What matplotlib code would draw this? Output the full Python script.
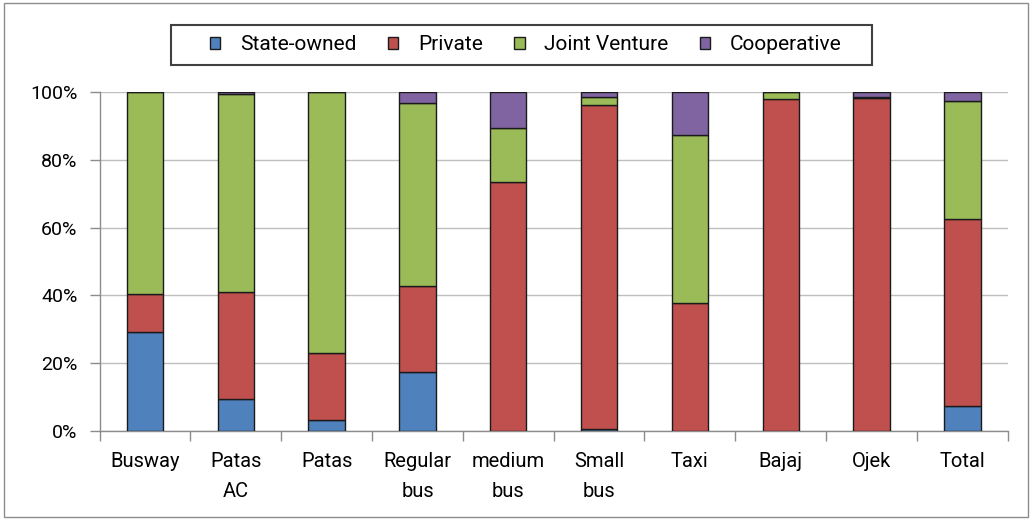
import matplotlib
matplotlib.use("Agg")
import matplotlib.pyplot as plt
from matplotlib.patches import Rectangle
import numpy as np

plt.rcParams['font.family'] = ['Roboto', 'DejaVu Sans']

categories = ["Busway", "Patas\nAC", "Patas", "Regular\nbus", "medium\nbus",
              "Small\nbus", "Taxi", "Bajaj", "Ojek", "Total"]
state_owned = [29.2, 9.4, 3.2, 17.5, 0.0, 0.5, 0.0, 0.0, 0.0, 7.4]
private = [11.2, 31.6, 19.8, 25.3, 73.5, 95.7, 37.8, 98.0, 98.1, 55.1]
joint_venture = [59.6, 58.3, 77.0, 53.9, 16.0, 2.2, 49.5, 2.0, 0.5, 34.8]
cooperative = [0.0, 0.7, 0.0, 3.3, 10.5, 1.6, 12.7, 0.0, 1.4, 2.7]

series = [("State-owned", state_owned, "#4F81BD"),
          ("Private", private, "#C0504D"),
          ("Joint Venture", joint_venture, "#9BBB59"),
          ("Cooperative", cooperative, "#8064A2")]

W, H = 1032, 520
fig = plt.figure(figsize=(W / 100, H / 100), dpi=100)
# outer chart border
fig.patches.append(Rectangle((0.004, 0.006), 0.992, 0.988, transform=fig.transFigure,
                             fill=False, edgecolor="#8C8C8C", linewidth=1.0))
ax = fig.add_axes([0.0965, 0.171, 0.880, 0.652])

x = np.arange(len(categories))
bottom = np.zeros(len(categories))
handles = []
for name, vals, color in series:
    vals = np.array(vals)
    b = ax.bar(x, vals, 0.4, bottom=bottom, color=color, edgecolor="#1a1a1a",
               linewidth=1.0, label=name, zorder=3)
    handles.append(b)
    bottom += vals

ax.set_xlim(-0.5, len(categories) - 0.5)
ax.set_ylim(0, 100)
ax.set_yticks(np.arange(0, 101, 20))
ax.set_yticklabels([f"{v}%" for v in range(0, 101, 20)], fontsize=14)
ax.yaxis.grid(True, color="#BFBFBF", linewidth=1.0, zorder=0)
ax.set_axisbelow(True)

ax.set_xticks(x)
ax.set_xticklabels(categories, fontsize=14.5, linespacing=1.75)
ax.tick_params(axis="x", length=0, pad=15)
ax.set_xticks(np.arange(-0.5, len(categories)), minor=True)
ax.tick_params(axis="x", which="minor", length=7, color="#8C8C8C", width=1)
ax.tick_params(axis="y", length=7, color="#8C8C8C", width=1, pad=9)

for side in ["top", "right"]:
    ax.spines[side].set_visible(False)
for side in ["left", "bottom"]:
    ax.spines[side].set_color("#8C8C8C")
    ax.spines[side].set_linewidth(1.0)

# legend with a separately drawn box
leg = fig.legend(handles=handles, loc="center", bbox_to_anchor=(526 / W, 1 - 45 / H),
                 ncol=4, fontsize=15, frameon=False,
                 handlelength=0.5, handleheight=0.5, handletextpad=0.95,
                 columnspacing=1.5, borderpad=0.0, borderaxespad=0)
fig.patches.append(Rectangle((171 / W, 1 - 65 / H), (872 - 171) / W, 40 / H,
                             transform=fig.transFigure, fill=False,
                             edgecolor="#404040", linewidth=1.5))

fig.savefig("out.png", dpi=100)
